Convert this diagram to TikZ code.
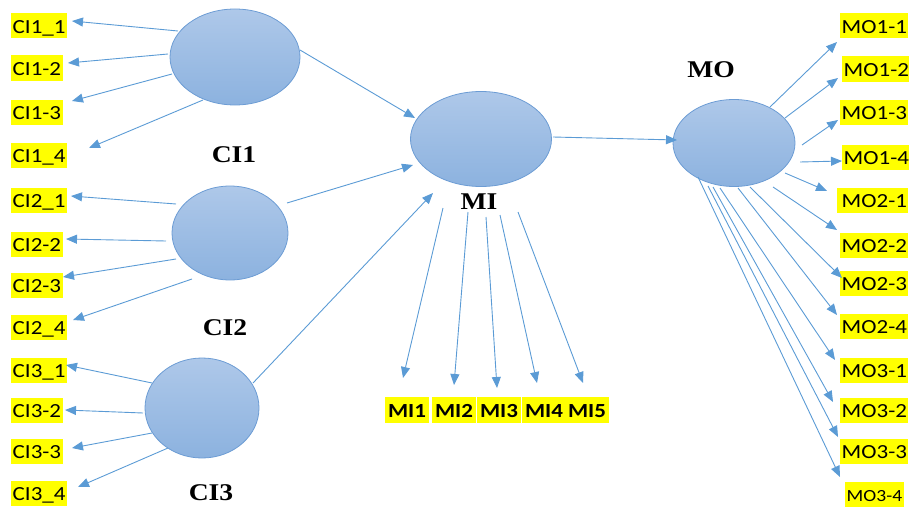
\documentclass[tikz,border=0pt]{standalone}
\usepackage{fontspec}
\usetikzlibrary{arrows.meta,calc,shapes.geometric}
\newfontfamily\lblfont[FakeStretch=1.15]{Carlito}
\newfontfamily\capfont[FakeStretch=1.15]{Liberation Serif}
\definecolor{arrowblue}{RGB}{91,155,213}
\definecolor{rimblue}{RGB}{108,156,212}
\definecolor{shadetop}{RGB}{174,200,233}
\definecolor{shadebot}{RGB}{140,178,223}
\definecolor{hilite}{RGB}{255,255,0}
\begin{document}
\begin{tikzpicture}[x=1pt,y=-1pt,
  latent/.style={ellipse, draw=rimblue, line width=0.8pt, top color=shadetop, bottom color=shadebot, inner sep=0pt, outer sep=0pt},
  obs/.style={fill=hilite, text=black, font=\lblfont\fontsize{20}{20}\selectfont, inner xsep=1.5pt, inner ysep=2pt, text height=18pt, text depth=3pt, anchor=west},
  ibox/.style={obs, font=\lblfont\bfseries\fontsize{20}{20}\selectfont, inner xsep=3pt, inner ysep=2.5pt, anchor=center},
  capname/.style={font=\capfont\bfseries\fontsize{24}{24}\selectfont, text=black, inner sep=0pt},
  conn/.style={draw=arrowblue, line width=0.9pt, -{Triangle[length=11pt,width=9pt]}}]
\useasboundingbox (0,0) rectangle (909,511);

% latent constructs
\node[latent, minimum width=130pt, minimum height=96pt] (ci1) at (235,57) {};
\node[latent, minimum width=116pt, minimum height=94pt] (ci2) at (230,233) {};
\node[latent, minimum width=114pt, minimum height=100pt] (ci3) at (202,408) {};
\node[latent, minimum width=141pt, minimum height=95pt] (mi) at (481,139) {};
\node[latent, minimum width=122pt, minimum height=87pt] (mo) at (734,143) {};

% construct names
\node[capname] (tci1) at (234,155) {CI1};
\node[capname] (tci2) at (225,328) {CI2};
\node[capname] (tci3) at (211,493) {CI3};
\node[capname] (tmi) at (479,202) {MI};
\node[capname] (tmo) at (711,70) {MO};

% indicators of CI1, CI2, CI3
\node[obs] (l11) at (11,26) {CI1\_1};
\node[obs] (l12) at (11,68) {CI1-2};
\node[obs] (l13) at (11,112) {CI1-3};
\node[obs] (l14) at (11,155) {CI1\_4};
\node[obs] (l21) at (11,200) {CI2\_1};
\node[obs] (l22) at (11,244) {CI2-2};
\node[obs] (l23) at (11,285) {CI2-3};
\node[obs] (l24) at (11,327) {CI2\_4};
\node[obs] (l31) at (11,370) {CI3\_1};
\node[obs] (l32) at (11,410) {CI3-2};
\node[obs] (l33) at (11,451) {CI3-3\hspace{7pt}};
\node[obs] (l34) at (11,493) {CI3\_4};

% indicators of MI
\node[ibox] (i1) at (407,410) {MI1};
\node[ibox] (i2) at (454,410) {MI2};
\node[ibox] (i3) at (499,410) {MI3};
\node[ibox] (i4) at (544,410) {MI4};
\node[ibox] (i5) at (587,410) {MI5};

% indicators of MO
\node[obs] (m11) at (840,26) {MO1-1};
\node[obs] (m12) at (842,69) {MO1-2};
\node[obs] (m13) at (840,112) {MO1-3};
\node[obs] (m14) at (842,157) {MO1-4};
\node[obs] (m21) at (837,200) {\hspace{3pt}MO2-1};
\node[obs] (m22) at (840,245) {MO2-2};
\node[obs] (m23) at (840,283) {MO2-3};
\node[obs] (m24) at (840,326) {MO2-4};
\node[obs] (m31) at (840,370) {MO3-1};
\node[obs] (m32) at (840,410) {MO3-2};
\node[obs] (m33) at (840,451) {MO3-3};
\node[obs, font=\lblfont\fontsize{17}{17}\selectfont] (m34) at (845,494) {MO3-4};

% CI1 loadings
\draw[conn] ($(ci1)+(-57,-26)$) -- ($(l11.west)+(61,-5)$);
\draw[conn] ($(ci1)+(-67,-3)$) -- ($(l12.west)+(57,-5)$);
\draw[conn] ($(ci1)+(-63,17)$) -- ($(l13.west)+(61,-11)$);
\draw[conn] ($(ci1)+(-32,43)$) -- ($(l14.west)+(78,-7)$);
% CI2 loadings
\draw[conn] ($(ci2)+(-54,-29)$) -- ($(l21.west)+(60,-4)$);
\draw[conn] ($(ci2)+(-64,8)$) -- ($(l22.west)+(55,-5)$);
\draw[conn] ($(ci2)+(-54,26)$) -- ($(l23.west)+(52,-8)$);
\draw[conn] ($(ci2)+(-38,46)$) -- ($(l24.west)+(62,-7)$);
% CI3 loadings
\draw[conn] ($(ci3)+(-50,-25)$) -- ($(l31.west)+(55,-5)$);
\draw[conn] ($(ci3)+(-59,5)$) -- ($(l32.west)+(54,0)$);
\draw[conn] ($(ci3)+(-50,25)$) -- ($(l33.west)+(61,-3)$);
\draw[conn] ($(ci3)+(-34,40)$) -- ($(l34.west)+(67,-6)$);

% structural paths
\draw[conn] ($(ci1)+(65,-7)$) -- ($(mi)+(-66,-21)$);
\draw[conn] ($(ci2)+(57,-30)$) -- ($(mi)+(-68,26)$);
\draw[conn] ($(ci3)+(51,-25)$) -- ($(mi)+(-48,54)$);
\draw[conn] ($(mi)+(72,-2)$) -- ($(mo)+(-57,-3)$);

% MI loadings
\draw[conn] ($(mi)+(-38,69)$) -- ($(i1)+(-4,-32)$);
\draw[conn] ($(mi)+(-13,73)$) -- ($(i2)+(0,-25)$);
\draw[conn] ($(mi)+(5,78)$) -- ($(i3)+(-2,-22)$);
\draw[conn] ($(mi)+(19,76)$) -- ($(i4)+(-7,-27)$);
\draw[conn] ($(mi)+(37,73)$) -- ($(i5)+(-4,-27)$);

% MO loadings
\draw[conn] ($(mo)+(36,-36)$) -- ($(m11.west)+(-3,16)$);
\draw[conn] ($(mo)+(51,-25)$) -- ($(m12.west)+(-4,9)$);
\draw[conn] ($(mo)+(68,2)$) -- ($(m13.west)+(-2,8)$);
\draw[conn] ($(mo)+(66,19)$) -- ($(m14.west)+(0,4)$);
\draw[conn] ($(mo)+(51,30)$) -- ($(m21.west)+(-10,-9)$);
\draw[conn] ($(mo)+(39,44)$) -- ($(m22.west)+(-3,-15)$);
\draw[conn] ($(mo)+(16,44)$) -- ($(m23.west)+(2,-5)$);
\draw[conn] ($(mo)+(4,45)$) -- ($(m24.west)+(-3,-11)$);
\draw[conn] ($(mo)+(-14,45)$) -- ($(m31.west)+(-5,-10)$);
\draw[conn] ($(mo)+(-21,44)$) -- ($(m32.west)+(-7,-8)$);
\draw[conn] ($(mo)+(-26,43)$) -- ($(m33.west)+(-2,-14)$);
\draw[conn] ($(mo)+(-36,34)$) -- ($(m34.west)+(-5,-17)$);
\end{tikzpicture}
\end{document}
